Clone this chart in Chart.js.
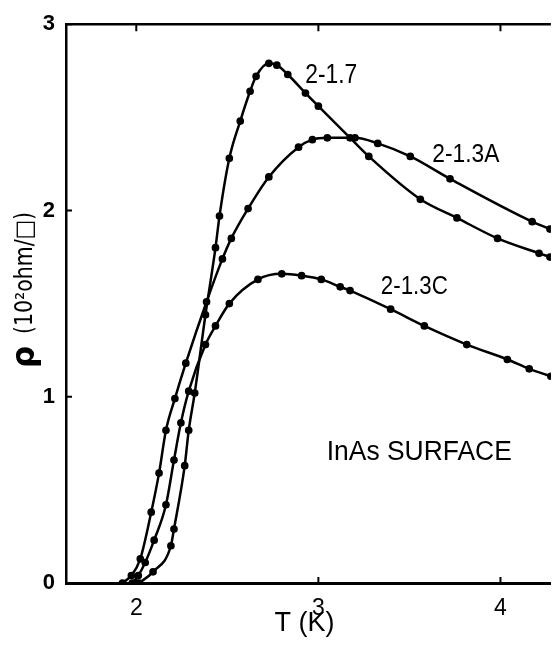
<!DOCTYPE html>
<html>
<head>
<meta charset="utf-8">
<script src="https://cdn.jsdelivr.net/npm/chart.js@4.4.0/dist/chart.umd.min.js"></script>
<style>
  html, body { margin: 0; padding: 0; background: #fff; }
  #wrap { width: 556px; height: 645px; }
</style>
</head>
<body>
<div id="wrap"><canvas id="rhoChart" width="556" height="645"></canvas></div>
<script>
// sample 2-1.7
const T_17 = [2.016, 2.092, 2.190, 2.207, 2.266, 2.288, 2.321, 2.380, 2.435, 2.457, 2.511, 2.571, 2.625, 2.658, 2.728, 2.772, 2.832, 2.929, 3.000, 3.174, 3.277, 3.560, 3.761, 3.984, 4.212, 4.272];
const RHO_17 = [0.00, 0.06, 0.20, 0.29, 0.63, 0.82, 1.02, 1.44, 1.80, 1.97, 2.28, 2.48, 2.64, 2.72, 2.79, 2.78, 2.73, 2.63, 2.56, 2.39, 2.29, 2.06, 1.96, 1.85, 1.77, 1.75];

// sample 2-1.3A
const T_13A = [1.924, 1.973, 2.022, 2.082, 2.125, 2.163, 2.212, 2.272, 2.386, 2.473, 2.522, 2.614, 2.728, 2.891, 2.967, 3.049, 3.201, 3.326, 3.505, 3.723, 4.174, 4.272];
const RHO_13A = [0.00, 0.04, 0.13, 0.38, 0.59, 0.82, 0.99, 1.18, 1.51, 1.74, 1.85, 2.01, 2.18, 2.34, 2.38, 2.39, 2.39, 2.36, 2.29, 2.17, 1.94, 1.90];

// sample 2-1.3C
const T_13C = [1.978, 2.011, 2.049, 2.098, 2.163, 2.207, 2.245, 2.288, 2.380, 2.435, 2.511, 2.668, 2.799, 2.908, 3.016, 3.120, 3.174, 3.397, 3.582, 3.815, 4.038, 4.158, 4.277];
const RHO_13C = [0.00, 0.04, 0.11, 0.23, 0.42, 0.66, 0.86, 1.03, 1.28, 1.38, 1.50, 1.63, 1.66, 1.65, 1.63, 1.59, 1.57, 1.47, 1.38, 1.28, 1.20, 1.15, 1.11];

const X_TICKS = [2, 3, 4];
const Y_TICKS = [0, 1, 2, 3];
const SERIES_NAMES = ["2-1.7", "2-1.3A", "2-1.3C"];

// text placed on the plot, in data units (T, rho)
const notes = [
  { text: "2-1.7", x: 3.071, y: 2.723, size: 27, w: 52 },
  { text: "2-1.3A", x: 3.810, y: 2.301, size: 26, w: 67 },
  { text: "2-1.3C", x: 3.527, y: 1.591, size: 26, w: 67 },
  { text: "InAs SURFACE", x: 3.554, y: 0.699, size: 27, w: 185 },
];

function toPoints(xs, ys) {
  return xs.map((x, i) => ({ x: x, y: ys[i] }));
}

function makeSet(name, xs, ys) {
  return {
    label: name,
    data: toPoints(xs, ys),
    showLine: true,
    borderColor: "#000",
    backgroundColor: "#000",
    borderWidth: 2.5,
    pointRadius: 2.6,
    pointHoverRadius: 2.6,
    cubicInterpolationMode: "monotone",
  };
}

const framePlugin = {
  id: "frame",
  afterDraw(chart) {
    const { ctx, chartArea: a, scales } = chart;
    const x = scales.x, y = scales.y;
    ctx.save();
    ctx.strokeStyle = "#000";
    ctx.fillStyle = "#000";

    // top edge
    ctx.lineWidth = 2.5;
    ctx.beginPath();
    ctx.moveTo(a.left, a.top);
    ctx.lineTo(a.right, a.top);
    ctx.stroke();

    // inward ticks
    ctx.lineWidth = 2;
    ctx.beginPath();
    X_TICKS.forEach((v) => {
      const px = x.getPixelForValue(v);
      ctx.moveTo(px, a.bottom);
      ctx.lineTo(px, a.bottom - 6);
      ctx.moveTo(px, a.top);
      ctx.lineTo(px, a.top + 7);
    });
    Y_TICKS.forEach((v) => {
      const py = y.getPixelForValue(v);
      ctx.moveTo(a.left, py);
      ctx.lineTo(a.left + 6, py);
    });
    ctx.stroke();

    // curve labels and sample note
    ctx.textAlign = "center";
    ctx.textBaseline = "middle";
    notes.forEach((n) => {
      ctx.font = `${n.size}px "Liberation Sans", sans-serif`;
      ctx.fillText(n.text, x.getPixelForValue(n.x), y.getPixelForValue(n.y), n.w);
    });

    // x axis title
    ctx.font = '27px "Liberation Sans", sans-serif';
    ctx.fillText("T (K)", (a.left + a.right) / 2 - 4, 624, 66);

    // y axis title, rotated
    ctx.translate(26, 368);
    ctx.rotate(-Math.PI / 2);
    ctx.textAlign = "left";
    ctx.font = 'bold 31px "DejaVu Sans", sans-serif';
    ctx.fillText("ρ", 0, 0);
    ctx.font = '24px "DejaVu Sans", sans-serif';
    ctx.fillText("(10²ohm/□)", 34, 0, 122);
    ctx.restore();
  },
};

new Chart(document.getElementById("rhoChart"), {
  type: "scatter",
  data: {
    datasets: [
      makeSet(SERIES_NAMES[0], T_17, RHO_17),
      makeSet(SERIES_NAMES[1], T_13A, RHO_13A),
      makeSet(SERIES_NAMES[2], T_13C, RHO_13C),
    ],
  },
  options: {
    responsive: false,
    animation: false,
    devicePixelRatio: 1,
    layout: { padding: { top: 21, right: 0, left: 0, bottom: 0 } },
    plugins: { legend: { display: false }, tooltip: { enabled: false } },
    scales: {
      x: {
        type: "linear",
        min: 1.614,
        max: 4.277,
        afterBuildTicks: (s) => { s.ticks = X_TICKS.map((v) => ({ value: v })); },
        afterFit: (s) => { s.height = 62; },
        grid: { display: false, drawTicks: false },
        border: { display: true, color: "#000", width: 3 },
        ticks: {
          color: "#000",
          padding: 12,
          maxRotation: 0,
          font: { family: "Liberation Sans", size: 23 },
        },
      },
      y: {
        type: "linear",
        min: 0,
        max: 3,
        afterBuildTicks: (s) => { s.ticks = Y_TICKS.map((v) => ({ value: v })); },
        afterFit: (s) => { s.width = 66; },
        grid: { display: false, drawTicks: false },
        border: { display: true, color: "#000", width: 2.5 },
        ticks: {
          color: "#000",
          padding: 11,
          font: { family: "Liberation Sans", size: 22, weight: "bold" },
        },
      },
    },
  },
  plugins: [framePlugin],
});
</script>
</body>
</html>
